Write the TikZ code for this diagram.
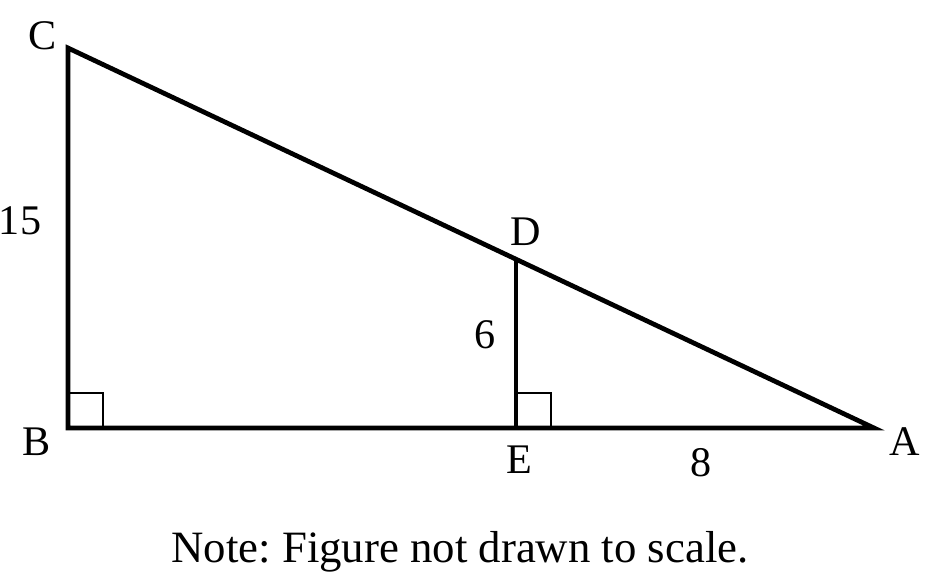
\documentclass[tikz,border=0pt]{standalone}
\usepackage{fontspec}
\setmainfont{Liberation Serif}
\usetikzlibrary{calc}
\begin{document}
\frenchspacing
\begin{tikzpicture}[x=0.02cm, y=-0.02cm,
        lbl/.style={inner sep=0pt, font=\fontsize{24}{28}\selectfont},
        side/.style={line width=2.7pt, line join=miter},
        rt/.style={line width=1.6pt}]
    \useasboundingbox (0,0) rectangle (928,578);
    \coordinate (C) at (68,48);
    \coordinate (B) at (68,428);
    \coordinate (A) at (874,428);
    \coordinate (E) at (516,428);
    \coordinate (D) at ($(C)!448/806!(A)$);
    \draw[side] (C) -- (B) -- (A) -- cycle;
    \draw[line width=2.1pt] (D) -- (E);

    % right angle marks
    \foreach \p in {B,E} {
        \draw[rt] ([yshift=0.7cm]\p) -| ([xshift=0.7cm]\p);
    }

    \node[lbl] (lC) at (43,36) {C};
    \node[lbl] (lB) at (37,442) {B};
    \node[lbl] (lA) at (905,442) {A};
    \node[lbl] (lD) at (526,232) {D};
    \node[lbl] (lE) at (519,460) {E};
    \node[lbl] (l15) at (20,221) {15};
    \node[lbl] (l6) at (485,335) {6};
    \node[lbl] (l8) at (701,463) {8};
    \node[lbl, anchor=base, font=\fontsize{25.5}{30}\selectfont] (note) at (460,562) {Note: Figure not drawn to scale.};
\end{tikzpicture}
\end{document}
